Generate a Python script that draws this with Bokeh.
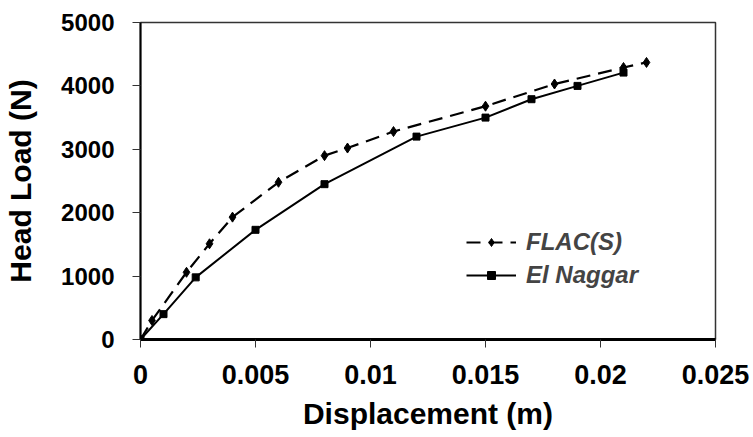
from bokeh.plotting import figure
from bokeh.models import FixedTicker, Legend, LegendItem
from bokeh.embed import file_html
from bokeh.resources import INLINE

flac_x = [0, 0.0005, 0.002, 0.003, 0.004, 0.006, 0.008, 0.009, 0.011, 0.015, 0.018, 0.021, 0.022]
flac_y = [0, 300, 1060, 1510, 1930, 2480, 2900, 3020, 3280, 3680, 4030, 4290, 4370]
elna_x = [0, 0.001, 0.0024, 0.005, 0.008, 0.012, 0.015, 0.017, 0.019, 0.021]
elna_y = [0, 400, 980, 1730, 2450, 3200, 3500, 3790, 4000, 4210]

x_ticks = [0, 0.005, 0.01, 0.015, 0.02, 0.025]
x_labels = ["0", "0.005", "0.01", "0.015", "0.02", "0.025"]
y_ticks = [0, 1000, 2000, 3000, 4000, 5000]

FONT = "Liberation Sans"

p = figure(width=753, height=437, output_backend="svg", toolbar_location=None,
           x_range=(0, 0.025), y_range=(0, 5000),
           min_border_left=140, min_border_right=38, min_border_top=22, min_border_bottom=98)
p.grid.visible = False
p.outline_line_color = "#333333"
p.outline_line_width = 1.5

l1 = p.line(flac_x, flac_y, line_color="black", line_width=2.2, line_dash="14 8")
m1 = p.scatter(flac_x, flac_y, marker="diamond", size=10, color="black")
l2 = p.line(elna_x, elna_y, line_color="black", line_width=2)
m2 = p.scatter(elna_x, elna_y, marker="square", size=7, color="black")

p.xaxis.ticker = FixedTicker(ticks=x_ticks)
p.xaxis.major_label_overrides = {t: s for t, s in zip(x_ticks, x_labels)}
p.yaxis.ticker = FixedTicker(ticks=y_ticks)
p.xaxis.minor_tick_line_color = None
p.yaxis.minor_tick_line_color = None

for ax in (p.xaxis, p.yaxis):
    ax.major_label_text_font = FONT
    ax.major_label_text_font_style = "bold"
    ax.major_label_text_color = "black"
    ax.axis_label_text_font = FONT
    ax.axis_label_text_font_style = "bold"
    ax.axis_label_text_font_size = "30px"
    ax.axis_label_text_color = "black"
    ax.major_tick_in = 0
    ax.major_tick_out = 8
    ax.major_tick_line_color = "#333333"

p.xaxis.major_label_text_font_size = "27px"
p.yaxis.major_label_text_font_size = "24px"
p.xaxis.axis_label = "Displacement (m)"
p.yaxis.axis_label = "Head Load (N)"
p.xaxis.axis_line_width = 3
p.yaxis.axis_line_width = 2
p.xaxis.major_label_standoff = 17
p.yaxis.major_label_standoff = 18
p.xaxis.axis_label_standoff = 10
p.yaxis.axis_label_standoff = 21

legend = Legend(items=[LegendItem(label="FLAC(S)", renderers=[l1, m1]),
                       LegendItem(label="El Naggar", renderers=[l2, m2])],
                location=(326, 50))
legend.border_line_color = None
legend.background_fill_alpha = 0
legend.label_text_font = FONT
legend.label_text_font_style = "bold italic"
legend.label_text_font_size = "24px"
legend.glyph_width = 50
legend.spacing = 5
legend.label_standoff = 10
p.add_layout(legend)

open("out.html", "w").write(file_html(p, INLINE))
